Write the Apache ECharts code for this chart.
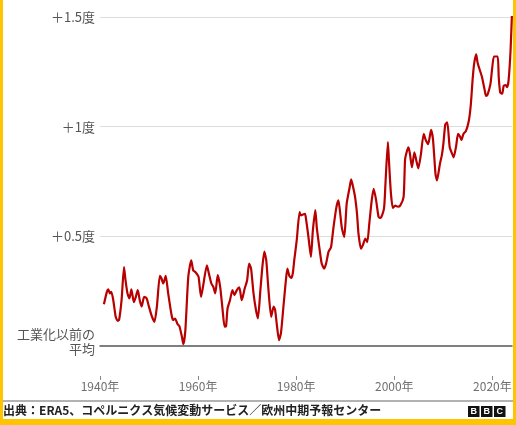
<!DOCTYPE html>
<html>
<head>
<meta charset="utf-8">
<script src="https://cdn.jsdelivr.net/npm/echarts@6/dist/echarts.min.js"></script>
<style>
  html, body { margin: 0; padding: 0; background: #fff; }
  #chart { width: 516px; height: 425px; }
</style>
</head>
<body>
<div id="chart"></div>
<script>
// Temperature anomaly vs. pre-industrial average (deg C)
const years = [
  1940.8, 1941.4, 1941.7, 1942.0, 1942.3, 1942.7, 1943.2, 1943.6, 1943.9, 1944.4,
  1944.9, 1945.2, 1945.6, 1946.0, 1946.4, 1946.9, 1947.3, 1947.7, 1948.1, 1948.5,
  1949.0, 1949.5, 1949.9, 1950.5, 1951.1, 1951.6, 1952.2, 1952.5, 1952.9, 1953.4,
  1953.9, 1954.6, 1954.9, 1955.3, 1955.8, 1956.2, 1956.7, 1957.0, 1957.4, 1958.0,
  1958.6, 1959.0, 1959.4, 1959.7, 1960.1, 1960.6, 1961.0, 1961.8, 1962.2, 1962.7,
  1963.1, 1963.5, 1964.0, 1964.5, 1965.0, 1965.4, 1965.7, 1966.0, 1966.5, 1967.0,
  1967.4, 1967.9, 1968.4, 1968.9, 1969.5, 1970.0, 1970.4, 1970.8, 1971.3, 1971.8,
  1972.2, 1972.7, 1973.1, 1973.5, 1973.9, 1974.3, 1974.9, 1975.4, 1975.7, 1976.1,
  1976.5, 1976.9, 1977.4, 1977.9, 1978.2, 1978.6, 1979.0, 1979.3, 1979.6, 1980.1,
  1980.7, 1981.0, 1981.4, 1981.8, 1982.0, 1982.5, 1983.0, 1983.4, 1983.9, 1984.2,
  1984.8, 1985.2, 1985.7, 1986.1, 1986.6, 1987.1, 1987.6, 1988.2, 1988.6, 1988.9,
  1989.3, 1989.8, 1990.3, 1990.9, 1991.2, 1991.5, 1992.0, 1992.4, 1992.7, 1993.2,
  1993.6, 1994.1, 1994.5, 1994.9, 1995.4, 1995.8, 1996.3, 1996.8, 1997.2, 1997.9,
  1998.2, 1998.7, 1998.9, 1999.3, 1999.7, 2000.2, 2000.7, 2001.2, 2001.9, 2002.2,
  2002.6, 2002.9, 2003.2, 2003.6, 2004.1, 2004.5, 2004.9, 2005.4, 2006.0, 2006.4,
  2006.9, 2007.5, 2007.9, 2008.4, 2008.7, 2009.3, 2009.7, 2010.0, 2010.4, 2010.8,
  2011.3, 2011.8, 2012.1, 2012.6, 2013.0, 2013.4, 2013.7, 2014.1, 2014.6, 2015.2,
  2015.6, 2016.0, 2016.3, 2016.7, 2017.0, 2017.5, 2017.9, 2018.4, 2018.7, 2019.0,
  2019.6, 2019.9, 2020.3, 2020.7, 2021.1, 2021.3, 2021.6, 2022.0, 2022.3, 2022.7,
  2023.0, 2023.3, 2023.7, 2024.0
];
const anomaly = [
  0.19, 0.247, 0.258, 0.24, 0.247, 0.21, 0.133, 0.115, 0.12, 0.21,
  0.36, 0.30, 0.24, 0.217, 0.258, 0.20, 0.224, 0.255, 0.209, 0.18,
  0.224, 0.218, 0.186, 0.14, 0.11, 0.18, 0.32, 0.31, 0.285, 0.32,
  0.24, 0.14, 0.118, 0.125, 0.10, 0.09, 0.042, 0.008, 0.07, 0.315,
  0.39, 0.345, 0.338, 0.33, 0.315, 0.224, 0.27, 0.368, 0.33, 0.285,
  0.27, 0.24, 0.323, 0.27, 0.164, 0.088, 0.09, 0.17, 0.209, 0.255,
  0.232, 0.255, 0.267, 0.209, 0.262, 0.30, 0.376, 0.353, 0.24, 0.164,
  0.126, 0.255, 0.36, 0.43, 0.39, 0.27, 0.133, 0.18, 0.165, 0.088,
  0.027, 0.06, 0.18, 0.30, 0.353, 0.32, 0.31, 0.33, 0.39, 0.48,
  0.61, 0.595, 0.60, 0.603, 0.58, 0.497, 0.406, 0.527, 0.62, 0.54,
  0.436, 0.376, 0.353, 0.376, 0.43, 0.45, 0.54, 0.633, 0.664, 0.62,
  0.54, 0.497, 0.65, 0.724, 0.76, 0.735, 0.68, 0.603, 0.512, 0.444,
  0.46, 0.49, 0.474, 0.557, 0.664, 0.717, 0.664, 0.588, 0.584, 0.626,
  0.74, 0.93, 0.85, 0.70, 0.63, 0.64, 0.635, 0.64, 0.68, 0.85,
  0.89, 0.906, 0.875, 0.815, 0.883, 0.845, 0.81, 0.87, 0.967, 0.94,
  0.92, 0.985, 0.94, 0.785, 0.755, 0.83, 0.87, 0.92, 1.01, 1.02,
  0.906, 0.876, 0.86, 0.91, 0.967, 0.955, 0.94, 0.967, 0.98, 1.027,
  1.10, 1.224, 1.29, 1.33, 1.29, 1.254, 1.224, 1.17, 1.14, 1.145,
  1.194, 1.254, 1.32, 1.32, 1.32, 1.224, 1.156, 1.15, 1.186, 1.19,
  1.18, 1.21, 1.345, 1.52
];
const yearTicks = [1940, 1960, 1980, 2000, 2020];
const yTickLabels = {
  0: "{a|工業化以前の}\n{b|平均}",
  0.5: "＋0.5度",
  1: "＋1度",
  1.5: "＋1.5度",
};
const sourceText = "出典：ERA5、コペルニクス気候変動サービス／欧州中期予報センター";

const fontFamily = '"Noto Sans CJK JP", "Noto Sans", sans-serif';
const chart = echarts.init(document.getElementById("chart"), null, { renderer: "canvas" });

const seriesData = years.map((y, i) => [y, anomaly[i]]);

const bbcLetters = ["B", "B", "C"];
const logo = bbcLetters.map((ch, i) => ({
  type: "group",
  left: 468 + i * 13,
  top: 406,
  children: [
    { type: "rect", shape: { x: 0, y: 0, width: 11.5, height: 11 }, style: { fill: "#111" } },
    {
      type: "text",
      x: 5.75,
      y: 6,
      style: {
        text: ch, fill: "#fff", align: "center", verticalAlign: "middle",
        font: 'bold 9px "Liberation Sans", sans-serif',
      },
    },
  ],
}));

const labelRich = {
  a: { color: "#555", fontSize: 13, lineHeight: 17, fontFamily: fontFamily, align: "right" },
  b: { color: "#555", fontSize: 13, lineHeight: 23, fontFamily: fontFamily, align: "right", verticalAlign: "top" },
};

const option = {
  backgroundColor: "#fff",
  animation: false,
  textStyle: { fontFamily: fontFamily },
  grid: { left: 100, right: 4, top: 17, bottom: 79, containLabel: false, outerBoundsMode: "none" },
  xAxis: [
    {
      type: "value",
      position: "bottom",
      min: 1940,
      max: 2024,
      axisLine: { show: true, lineStyle: { color: "#555", width: 1.5 } },
      axisTick: { show: false },
      axisLabel: { show: false },
      splitLine: { show: false },
    },
    {
      type: "value",
      position: "bottom",
      min: 1940,
      max: 2024,
      offset: 30,
      axisLine: { show: false },
      axisTick: {
        show: true,
        length: 4,
        customValues: yearTicks,
        lineStyle: { color: "#888", width: 1 },
      },
      axisLabel: {
        show: true,
        customValues: yearTicks,
        margin: 4,
        formatter: (v) => String(v) + "年",
        color: "#707070",
        fontSize: 12,
        fontFamily: fontFamily,
      },
      splitLine: { show: false },
    },
  ],
  yAxis: {
    type: "value",
    min: 0,
    max: 1.5,
    interval: 0.5,
    axisLine: { show: false },
    axisTick: { show: false },
    axisLabel: {
      margin: 5,
      color: "#555",
      fontSize: 13,
      fontFamily: fontFamily,
      formatter: (v) => yTickLabels[v] || "",
      rich: labelRich,
    },
    splitLine: { show: true, lineStyle: { color: ["transparent", "#ddd", "#ddd", "#ddd"], width: 1 } },
  },
  series: [
    {
      type: "line",
      xAxisIndex: 0,
      data: seriesData,
      showSymbol: false,
      smooth: 0.2,
      lineStyle: { color: "#b80000", width: 2.2 },
    },
  ],
  graphic: [
    { type: "line", shape: { x1: 0, y1: 401, x2: 516, y2: 401 }, style: { stroke: "#999", lineWidth: 1.5 } },
    {
      type: "text",
      left: 3,
      top: 404,
      style: { text: sourceText, fill: "#222", font: 'bold 12px "Noto Sans CJK JP"' },
    },
    ...logo,
    { type: "rect", shape: { x: 0, y: 0, width: 3, height: 425 }, style: { fill: "#FFC400" } },
    { type: "rect", shape: { x: 513, y: 0, width: 3, height: 425 }, style: { fill: "#FFC400" } },
    { type: "rect", shape: { x: 0, y: 419, width: 516, height: 6 }, style: { fill: "#FFC400" } },
  ],
};

chart.setOption(option);
</script>
</body>
</html>
